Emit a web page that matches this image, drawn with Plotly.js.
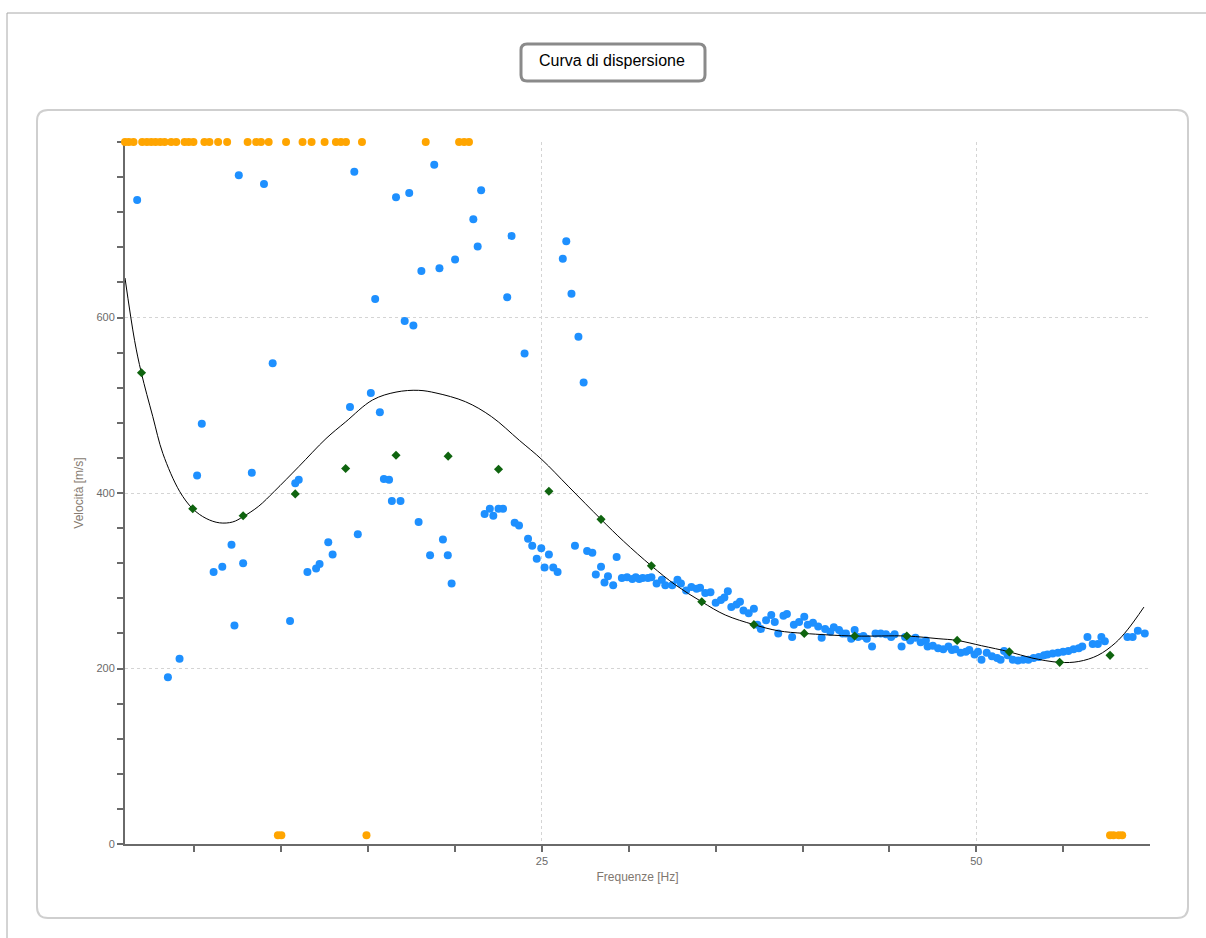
<!DOCTYPE html>
<html>
<head>
<meta charset="utf-8">
<script src="https://cdn.plot.ly/plotly-3.0.1.min.js"></script>
<style>html,body{margin:0;padding:0;background:#fff;}#chart{width:1206px;height:938px;}</style>
</head>
<body>
<div id="chart"></div>
<script>
// ---- Data ----
const blueX = [1.7,3.47,4.14,5.15,5.42,6.1,6.6,7.13,7.3,7.55,7.8,8.3,9.0,9.5,10.5,10.8,11.0,11.5,12.0,12.2,12.7,12.95,13.95,14.2,14.4,15.15,15.4,15.67,15.9,16.2,16.36,16.6,16.86,17.1,17.36,17.6,17.9,18.06,18.56,18.8,19.1,19.3,19.58,19.8,20.0,21.05,21.3,21.5,21.7,22.0,22.2,22.5,22.76,23.0,23.25,23.43,23.68,24.0,24.2,24.44,24.7,24.96,25.15,25.4,25.65,25.9,26.2,26.4,26.7,26.9,27.1,27.4,27.6,27.9,28.1,28.4,28.6,28.8,29.1,29.3,29.6,29.9,30.2,30.4,30.6,30.8,31.1,31.3,31.6,31.9,32.1,32.5,32.8,33.0,33.3,33.6,33.9,34.1,34.4,34.7,35.0,35.3,35.5,35.7,35.9,36.2,36.4,36.6,36.9,37.2,37.4,37.6,37.9,38.2,38.4,38.6,38.9,39.1,39.4,39.5,39.8,40.1,40.3,40.6,40.9,41.1,41.3,41.6,41.8,42.1,42.3,42.5,42.8,43.0,43.2,43.5,43.7,44.0,44.2,44.5,44.8,45.1,45.3,45.7,45.9,46.2,46.5,46.8,47.1,47.2,47.5,47.8,48.1,48.4,48.6,48.8,49.1,49.4,49.6,49.9,50.1,50.3,50.6,50.9,51.2,51.4,51.6,51.8,52.1,52.4,52.7,53.0,53.3,53.6,53.9,54.1,54.4,54.7,55.0,55.3,55.6,55.9,56.1,56.4,56.7,57.0,57.2,57.4,58.7,59.0,59.3,59.7];
const blueY = [734,190,211,420,479,310,316,341,249,762,320,423,752,548,254,411,415,310,314,319,344,330,498,766,353,514,621,492,416,415,391,737,391,596,742,591,367,653,329,774,656,347,329,297,666,712,681,745,376,382,374,382,382,623,693,366,363,559,348,340,325,337,315,330,315,310,667,687,627,340,578,526,334,332,307,316,298,305,295,327,303,304,302,304,302,303,303,304,297,301,295,295,301,297,289,293,291,292,286,287,275,278,281,288,270,273,276,266,263,268,250,245,255,261,253,240,260,262,236,250,253,259,250,252,248,235,245,242,247,244,240,240,234,244,236,237,234,225,240,240,239,236,239,225,236,232,235,230,232,225,226,223,222,225,221,222,218,219,221,216,219,210,218,214,212,210,220,215,210,209,210,210,212,213,215,216,217,218,219,220,222,223,225,236,228,228,236,231,236,236,243,240];

const greenX = [1.95,4.9,7.8,10.8,13.7,16.6,19.6,22.5,25.4,28.4,31.3,34.2,37.2,40.1,43.0,46.0,48.9,51.9,54.8,57.7];
const greenY = [537,382,374,399,428,443,442,427,402,370,317,276,250,240,237,237,232,219,207,215];

const curveX = [1.0,1.55,1.94,2.6,3.18,4.14,4.9,5.67,6.44,7.2,7.8,8.7,9.6,11.0,12.57,13.7,15.25,16.6,17.9,18.9,20.6,22.1,23.7,25.0,26.55,28.4,29.7,31.3,32.7,34.2,35.55,37.2,38.6,40.1,43.0,46.0,47.8,48.9,50.3,51.9,53.2,54.8,55.9,57.0,58.0,58.7,59.65];
const curveY = [645,574,537,487,445,402,382,371,366,367,373,385,402,430,462,481,506,515,517,514,504,487,460,438,407,370,345,317,295,276,261,250,243,240,237,237,234,232,226,219,212,207,208,215,229,244,270];

const orangeTopX = [1.0,1.22,1.49,1.99,2.26,2.51,2.76,3.03,3.28,3.66,3.95,4.43,4.67,4.94,5.57,5.86,6.36,6.88,8.06,8.55,8.83,9.27,10.27,11.22,11.74,12.49,13.14,13.43,13.72,14.64,18.31,20.23,20.52,20.80];
const orangeTopY = orangeTopX.map(() => 800);
const orangeBotX = [9.8,10.0,14.9,57.7,57.9,58.2,58.4];
const orangeBotY = orangeBotX.map(() => 10);

const xTickVals = [25, 50];
const xMinorVals = [5,10,15,20,25,30,35,40,45,50,55];
const yTickVals = [0, 200, 400, 600];

// ---- Layout helpers (pixel -> paper) ----
const W = 1206, H = 938;
const M = {l:125, r:56, t:142, b:94};
const PW = W - M.l - M.r, PH = H - M.t - M.b;
const px = x => (x - M.l) / PW;
const py = y => (H - M.b - y) / PH;
function roundRect(x0, y0, x1, y1, r) {
  const P = (x, y) => px(x).toFixed(5) + ',' + py(y).toFixed(5);
  return 'M' + P(x0 + r, y0) + ' L' + P(x1 - r, y0) + ' Q' + P(x1, y0) + ' ' + P(x1, y0 + r) +
    ' L' + P(x1, y1 - r) + ' Q' + P(x1, y1) + ' ' + P(x1 - r, y1) +
    ' L' + P(x0 + r, y1) + ' Q' + P(x0, y1) + ' ' + P(x0, y1 - r) +
    ' L' + P(x0, y0 + r) + ' Q' + P(x0, y0) + ' ' + P(x0 + r, y0) + ' Z';
}

const FONT = 'Liberation Sans, Arial, sans-serif';

const traces = [
  {x: orangeTopX, y: orangeTopY, type: 'scatter', mode: 'markers', cliponaxis: false,
   marker: {size: 8, color: '#FFA500'}},
  {x: orangeBotX, y: orangeBotY, type: 'scatter', mode: 'markers', cliponaxis: false,
   marker: {size: 8, color: '#FFA500'}},
  {x: blueX, y: blueY, type: 'scatter', mode: 'markers', cliponaxis: false,
   marker: {size: 8, color: '#1E90FF'}},
  {x: curveX, y: curveY, type: 'scatter', mode: 'lines',
   line: {color: '#000000', width: 1, shape: 'spline', smoothing: 1}},
  {x: greenX, y: greenY, type: 'scatter', mode: 'markers', cliponaxis: false,
   marker: {size: 7, symbol: 'diamond', color: '#0f640f'}}
];

const axisCommon = {
  showline: true, linecolor: '#6a6a6a', linewidth: 2,
  ticks: 'outside', ticklen: 6, tickwidth: 2, tickcolor: '#6a6a6a',
  showgrid: true, gridcolor: '#d4d4d4', gridwidth: 1, griddash: '3px,3px',
  zeroline: false, layer: 'below traces',
  tickfont: {family: FONT, size: 11, color: '#6a6a6a'}
};

const layout = {
  width: W, height: H,
  margin: M,
  paper_bgcolor: '#ffffff', plot_bgcolor: 'rgba(0,0,0,0)',
  showlegend: false, hovermode: false,
  font: {family: FONT},
  xaxis: Object.assign({}, axisCommon, {
    range: [1, 60], tickmode: 'array', tickvals: xTickVals, ticktext: xTickVals.map(String),
    minor: {tickmode: 'array', tickvals: xMinorVals, ticks: 'outside', ticklen: 6, tickwidth: 2, tickcolor: '#6a6a6a', showgrid: false},
    title: {text: 'Frequenze [Hz]', font: {family: FONT, size: 12, color: '#7f776f'}, standoff: 6}
  }),
  yaxis: Object.assign({}, axisCommon, {
    range: [0, 800], tickmode: 'array', tickvals: yTickVals, ticktext: yTickVals.map(String),
    minor: {tickmode: 'linear', tick0: 0, dtick: 40, ticks: 'outside', ticklen: 6, tickwidth: 2, tickcolor: '#6a6a6a', showgrid: false},
    title: {text: 'Velocità [m/s]', font: {family: FONT, size: 12, color: '#857a70'}, standoff: 10}
  }),
  shapes: [
    {type: 'rect', xref: 'paper', yref: 'paper', x0: px(7), y0: py(13), x1: px(1240), y1: py(980),
     line: {color: '#a8a8a8', width: 1}, layer: 'below'},
    {type: 'path', xref: 'paper', yref: 'paper', path: roundRect(37, 110, 1188, 918, 11),
     line: {color: '#cfcfcf', width: 2}, layer: 'below'},
    {type: 'path', xref: 'paper', yref: 'paper', path: roundRect(521, 44, 705, 81, 6),
     fillcolor: '#ffffff', line: {color: '#8a8a8a', width: 3}, layer: 'below'}
  ],
  annotations: [
    {xref: 'paper', yref: 'paper', x: px(612), y: py(61), xanchor: 'center', yanchor: 'middle',
     showarrow: false, text: 'Curva di dispersione', font: {family: FONT, size: 16, color: '#000000'}}
  ]
};

Plotly.newPlot('chart', traces, layout, {displayModeBar: false, staticPlot: true});
</script>
</body>
</html>
